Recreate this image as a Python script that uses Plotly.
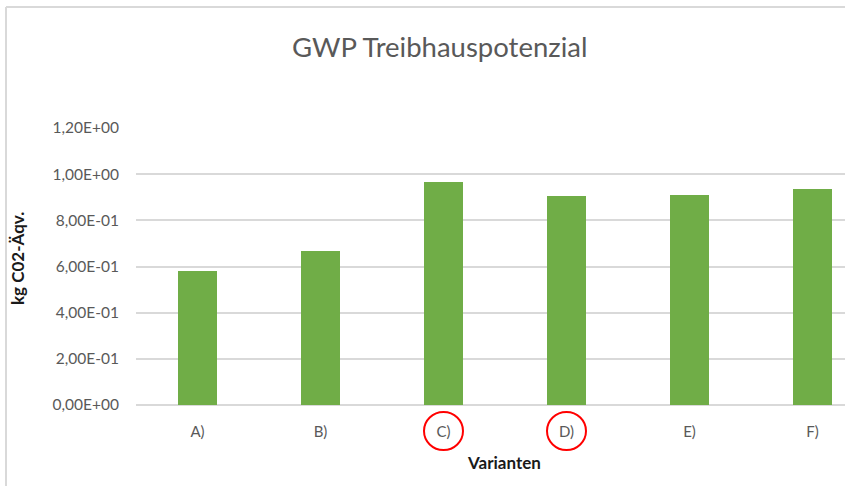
import plotly.graph_objects as go

categories = ["A)", "B)", "C)", "D)", "E)", "F)"]
values = [0.58, 0.667, 0.966, 0.906, 0.908, 0.935]
y_ticks = [0, 0.2, 0.4, 0.6, 0.8, 1.0, 1.2]
y_tick_labels = ["0,00E+00", "2,00E-01", "4,00E-01", "6,00E-01", "8,00E-01", "1,00E+00", "1,20E+00"]
highlighted = ["C)", "D)"]

W, H = 845, 486
ML, MR, MT, MB = 136, 0, 128, 81
pw, ph = W - ML - MR, H - MT - MB

def px_x(p):
    return (p - ML) / pw

def px_y(p):
    return (H - MB - p) / ph

FONT = "Lato"

fig = go.Figure(go.Bar(
    x=categories, y=values, width=0.32,
    marker=dict(color="#70ad47", line=dict(width=0)),
))

frame = dict(color="#d9d9d9", width=2)
shapes = [
    dict(type="line", xref="paper", yref="paper",
         x0=px_x(6), x1=px_x(W + 20), y0=px_y(7), y1=px_y(7),
         line=frame, layer="below"),
    dict(type="line", xref="paper", yref="paper",
         x0=px_x(6), x1=px_x(6), y0=px_y(7), y1=px_y(H + 20),
         line=frame, layer="below"),
]
for c in highlighted:
    shapes.append(dict(type="circle", xref="x", yref="paper",
                       xsizemode="pixel", xanchor=c, x0=-19.5, x1=19.5,
                       y0=px_y(450), y1=px_y(412),
                       line=dict(color="#ff0000", width=2)))

fig.update_layout(
    width=W, height=H,
    margin=dict(l=ML, r=MR, t=MT, b=MB),
    paper_bgcolor="white", plot_bgcolor="white",
    showlegend=False,
    bargap=0,
    font=dict(family=FONT, color="#595959", size=15),
    xaxis=dict(range=[-0.5, -0.5 + pw / 123.0], showgrid=False,
               showline=False, zeroline=False, ticks="",
               tickfont=dict(size=15, color="#595959"),
               ticklabelstandoff=16, fixedrange=True),
    yaxis=dict(range=[0, 1.2], tickvals=y_ticks, ticktext=y_tick_labels,
               showgrid=True, gridcolor="#d9d9d9", gridwidth=1.5,
               zeroline=True, zerolinecolor="#d9d9d9", zerolinewidth=1.5,
               showline=False, ticks="",
               tickfont=dict(size=15.5, color="#595959"),
               ticklabelstandoff=16, fixedrange=True),
    shapes=shapes,
    annotations=[
        dict(text="GWP Treibhauspotenzial", xref="paper", yref="paper",
             x=px_x(439), y=px_y(46), showarrow=False,
             xanchor="center", yanchor="middle",
             font=dict(family=FONT, size=27.5, color="#595959")),
        dict(text="<b>Varianten</b>", xref="paper", yref="paper",
             x=px_x(504), y=px_y(462), showarrow=False,
             xanchor="center", yanchor="middle",
             font=dict(family=FONT, size=17, color="#1a1a1a")),
        dict(text="<b>kg C02-Äqv.</b>", xref="paper", yref="paper",
             x=px_x(17), y=px_y(259), showarrow=False, textangle=-90,
             xanchor="center", yanchor="middle",
             font=dict(family=FONT, size=17, color="#1a1a1a")),
    ],
)

fig.write_html(
    "out.html",
    config={"displayModeBar": False},
    post_script="document.body.style.margin='0';document.body.style.overflow='hidden';",
)
